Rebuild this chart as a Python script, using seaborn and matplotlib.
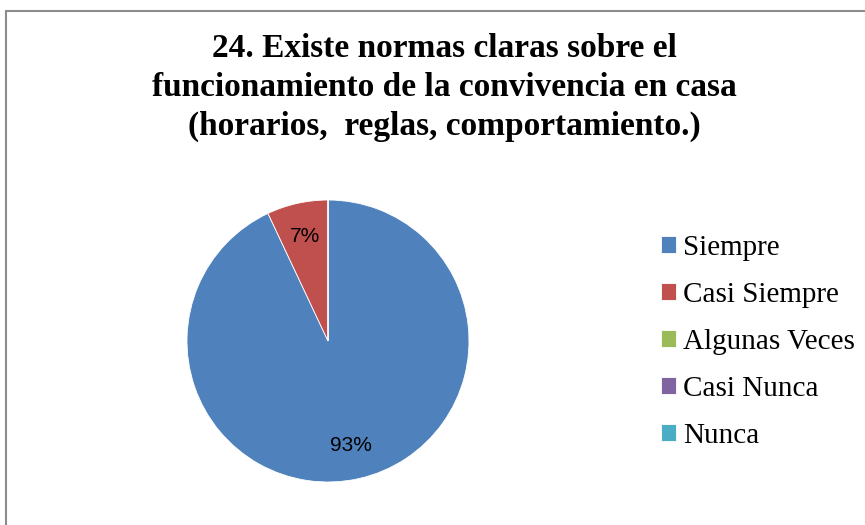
import matplotlib
matplotlib.use("Agg")
import matplotlib.pyplot as plt
from matplotlib.patches import Rectangle
import seaborn as sns

categories = ["Siempre", "Casi Siempre", "Algunas Veces", "Casi Nunca", "Nunca"]
values = [93, 7, 0, 0, 0]
colors = ["#4F81BD", "#C0504D", "#9BBB59", "#8064A2", "#4BACC6"]
title = ("24. Existe normas claras sobre el\n"
         "funcionamiento de la convivencia en casa\n"
         "(horarios,  reglas, comportamiento.)")

sns.set_theme(style="white")
plt.rcParams["font.family"] = ["Liberation Serif", "DejaVu Serif"]
plt.rcParams["text.color"] = "black"

W, H = 865, 525
fig = plt.figure(figsize=(W / 100, H / 100), dpi=100)
fig.patch.set_facecolor("white")

# chart frame (only left and top visible in the crop)
fig.add_artist(Rectangle((6 / W, -0.2), 1.2, (H - 11) / H + 0.2,
                         transform=fig.transFigure, fill=False,
                         edgecolor="#8c8c8c", lw=1.5))

cx, cy, r = 328, H - 341, 141
pad = r * 1.03
ax = fig.add_axes([(cx - pad) / W, (cy - pad) / H, 2 * pad / W, 2 * pad / H])
wedges, texts, autotexts = ax.pie(
    values, colors=colors, startangle=90, counterclock=False,
    autopct=lambda p: f"{p:.0f}%" if p > 0 else "", pctdistance=0.76,
    wedgeprops=dict(linewidth=0.6, edgecolor="white"),
    textprops=dict(fontsize=15, family=["Liberation Sans", "DejaVu Sans"], color="black"),
)
ax.set_xlim(-1.03, 1.03)
ax.set_ylim(-1.03, 1.03)
ax.set_aspect("equal")

fig.text(444 / W, 1 - 33 / H, title, ha="center", va="top",
         fontsize=24, fontweight="bold", linespacing=1.33)

fig.legend(wedges, categories, loc="upper left",
           bbox_to_anchor=(661 / W, 1 - 235 / H), frameon=False,
           fontsize=21, handlelength=0.5, handleheight=0.5,
           handletextpad=0.25, labelspacing=0.72, borderpad=0,
           borderaxespad=0)

fig.savefig("out.png", dpi=100)
